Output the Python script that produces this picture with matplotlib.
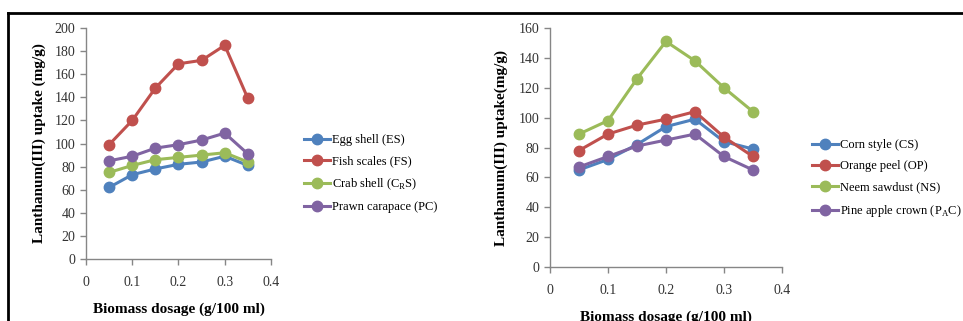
import numpy as np
import matplotlib
matplotlib.use("Agg")
import matplotlib.pyplot as plt
from matplotlib.lines import Line2D

plt.rcParams['font.family'] = ['Liberation Serif', 'DejaVu Serif']
plt.rcParams['mathtext.fontset'] = 'custom'
plt.rcParams['mathtext.rm'] = 'Liberation Serif'

# biomass dosage (g/100 ml)
dosage = [0.05, 0.1, 0.15, 0.2, 0.25, 0.3, 0.35]

# left panel: animal derived biomass
es = [62, 73, 78, 82, 84, 89, 81]
fs = [99, 120, 148, 169, 172, 185, 139]
crs = [75, 81, 86, 88, 90, 92, 84]
pc = [85, 89, 96, 99, 103, 109, 91]
left_labels = ['Egg shell (ES)', 'Fish scales (FS)',
               'Crab shell (C$_\\mathrm{R}$S)', 'Prawn carapace (PC)']

# right panel: plant derived biomass
cs = [65, 72, 82, 94, 99, 84, 79]
op = [78, 89, 95, 99, 104, 87, 74]
ns = [89, 98, 126, 151, 138, 120, 104]
pac = [67, 74, 81, 85, 89, 74, 65]
right_labels = ['Corn style (CS)', 'Orange peel (OP)',
                'Neem sawdust (NS)', 'Pine apple crown (P$_\\mathrm{A}$C)']

colors = ['#4F81BD', '#C0504D', '#9BBB59', '#8064A2']
axis_grey = '#868686'
tick_col = '#333333'

fig = plt.figure(figsize=(9.63, 3.21), dpi=100)
ax0 = fig.add_axes([0.0893, 0.193, 0.1921, 0.7198])
ax1 = fig.add_axes([0.5711, 0.168, 0.2409, 0.7448])


def style(ax, ymax, ystep):
    ax.set_xlim(0, 0.4)
    ax.set_ylim(0, ymax)
    ax.set_xticks([0, 0.1, 0.2, 0.3, 0.4])
    ax.set_xticklabels(['0', '0.1', '0.2', '0.3', '0.4'])
    ax.set_yticks(np.arange(0, ymax + 1, ystep))
    for s in ['top', 'right']:
        ax.spines[s].set_visible(False)
    for s in ['left', 'bottom']:
        ax.spines[s].set_color(axis_grey)
        ax.spines[s].set_linewidth(1.0)
    ax.tick_params(axis='both', colors=axis_grey, labelcolor=tick_col,
                   labelsize=10, length=4, width=1.0, direction='out')
    ax.tick_params(axis='x', pad=8)


for series, c, lab in zip([es, fs, crs, pc], colors, left_labels):
    ax0.plot(dosage, series, color=c, lw=2.2, marker='o', ms=7.5, label=lab,
             clip_on=False)
for series, c, lab in zip([cs, op, ns, pac], colors, right_labels):
    ax1.plot(dosage, series, color=c, lw=2.2, marker='o', ms=7.5, label=lab,
             clip_on=False)

style(ax0, 200, 20)
style(ax1, 160, 20)

ax0.set_ylabel('Lanthanum(III) uptake (mg/g)', fontsize=11, fontweight='bold',
               labelpad=6)
ax0.set_xlabel('Biomass dosage (g/100 ml)', fontsize=11, fontweight='bold',
               labelpad=10)
ax1.set_ylabel('Lanthanum(III) uptake(mg/g)', fontsize=11, fontweight='bold',
               labelpad=8)
ax1.set_xlabel('Biomass dosage (g/100 ml)', fontsize=11, fontweight='bold',
               labelpad=10)

leg_kw = dict(loc='upper left', frameon=False, fontsize=9, handlelength=2.1,
              handletextpad=0.15, labelspacing=0.74, borderaxespad=0)
ax0.legend(bbox_transform=fig.transFigure, bbox_to_anchor=(0.310, 0.598), **leg_kw)
ax1.legend(bbox_transform=fig.transFigure, bbox_to_anchor=(0.838, 0.582), **leg_kw)

# frame lines (top and left) of the original figure
fig.add_artist(Line2D([8 / 963, 1], [1 - 13 / 321] * 2, color='black', lw=2,
                      transform=fig.transFigure))
fig.add_artist(Line2D([8 / 963] * 2, [0, 1 - 13 / 321], color='black', lw=2,
                      transform=fig.transFigure))

fig.savefig('out.png', dpi=100)
